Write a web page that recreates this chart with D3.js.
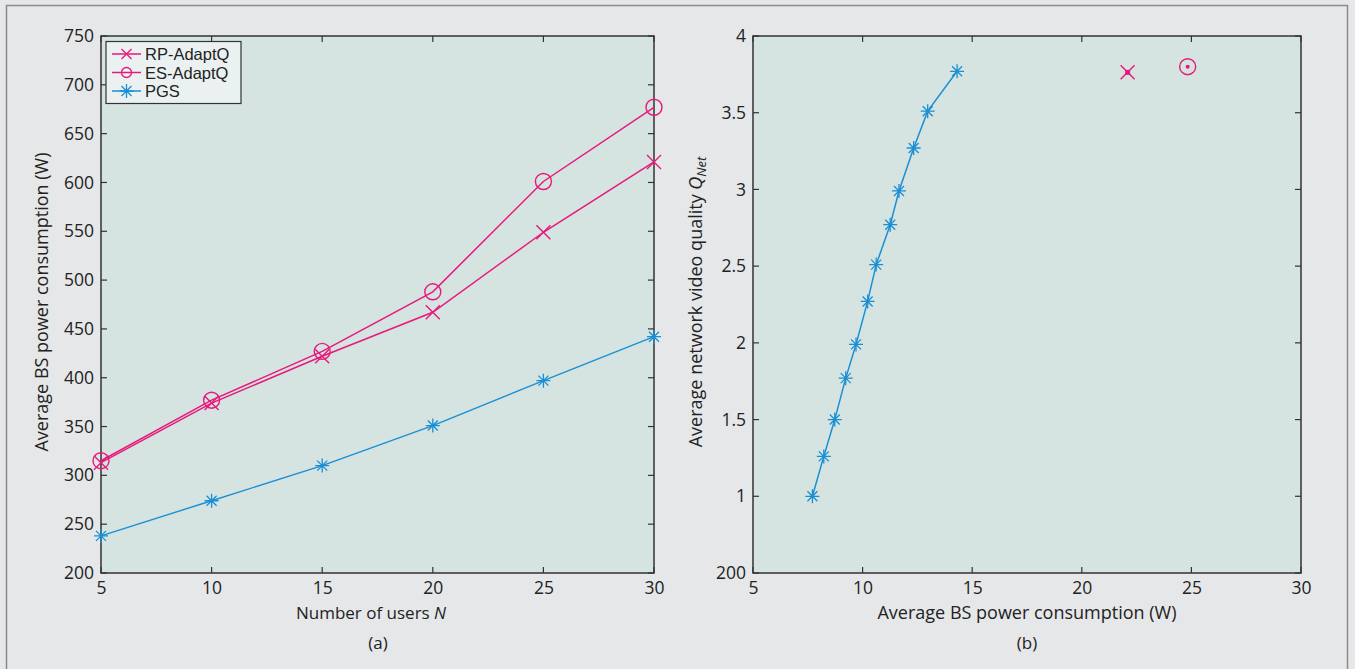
<!DOCTYPE html>
<html><head><meta charset="utf-8">
<script src="https://cdn.jsdelivr.net/npm/d3@7"></script>
<style>
html,body{margin:0;padding:0;background:#e6e7e9;}
svg{display:block;font-family:"Open Sans","Noto Sans",sans-serif;}
</style></head>
<body>
<svg id="c" width="1355" height="669"></svg>
<script>
// ---- data ----
const usersN = [5, 10, 15, 20, 25, 30];
const rpAdaptQ = [313, 374, 422, 467, 549, 621];
const esAdaptQ = [315, 377, 427, 488, 601, 677];
const pgsA = [238, 274, 310, 351, 397, 442];

const pgsPower = [7.71, 8.23, 8.73, 9.23, 9.70, 10.23, 10.62, 11.26, 11.66, 12.33, 12.97, 14.31];
const pgsQuality = [1.00, 1.26, 1.50, 1.77, 1.99, 2.27, 2.51, 2.77, 2.99, 3.27, 3.51, 3.77];
const rpPointB = [{x: 22.09, y: 3.763}];
const esPointB = [{x: 24.83, y: 3.80}];

const xTicksA = [5, 10, 15, 20, 25, 30];
const yTicksA = [200, 250, 300, 350, 400, 450, 500, 550, 600, 650, 700, 750];
const xTicksB = [5, 10, 15, 20, 25, 30];
const yTicksB = [0.5, 1, 1.5, 2, 2.5, 3, 3.5, 4];
const yTickLabelsB = ["200", "1", "1.5", "2", "2.5", "3", "3.5", "4"];
const legendNames = ["RP-AdaptQ", "ES-AdaptQ", "PGS"];

// ---- style ----
const PINK = "#e8197c", BLUE = "#1a8fd4", AXIS = "#333", PLOTBG = "#d5e4e1";
const FONT = '"Open Sans","Noto Sans",sans-serif';
const svg = d3.select("#c");

// outer frame
svg.append("path").attr("d", "M6.5,669 L6.5,5.5 L1347.5,5.5 L1347.5,669")
  .attr("fill", "none").attr("stroke", "#8a8a8a").attr("stroke-width", 1.5);

function marker(g, type, x, y, color) {
  if (type === "x") {
    const s = 7;
    g.append("path").attr("d", `M${x-s},${y-s}L${x+s},${y+s}M${x-s},${y+s}L${x+s},${y-s}`)
      .attr("stroke", color).attr("stroke-width", 1.4).attr("fill", "none");
  } else if (type === "o") {
    g.append("circle").attr("cx", x).attr("cy", y).attr("r", 8)
      .attr("stroke", color).attr("stroke-width", 1.4).attr("fill", "none");
  } else if (type === "*") {
    const s = 7, d = 5;
    g.append("path").attr("d", `M${x-s},${y}L${x+s},${y}M${x},${y-s}L${x},${y+s}M${x-d},${y-d}L${x+d},${y+d}M${x-d},${y+d}L${x+d},${y-d}`)
      .attr("stroke", color).attr("stroke-width", 1.3).attr("fill", "none");
  }
}

function frame(x, y, opts) {
  const g = svg.append("g");
  const [x0, x1] = x.range(), [y0, y1] = y.range();
  g.append("rect").attr("x", x0).attr("y", y1).attr("width", x1 - x0).attr("height", y0 - y1).attr("fill", PLOTBG);
  const tl = 6;
  opts.xt.forEach(v => {
    const px = x(v);
    g.append("line").attr("x1", px).attr("x2", px).attr("y1", y0).attr("y2", y0 - tl).attr("stroke", AXIS).attr("stroke-width", 1.2);
    g.append("line").attr("x1", px).attr("x2", px).attr("y1", y1).attr("y2", y1 + tl).attr("stroke", AXIS).attr("stroke-width", 1.2);
  });
  opts.yt.forEach(v => {
    const py = y(v);
    g.append("line").attr("x1", x0).attr("x2", x0 + tl).attr("y1", py).attr("y2", py).attr("stroke", AXIS).attr("stroke-width", 1.2);
    g.append("line").attr("x1", x1).attr("x2", x1 - tl).attr("y1", py).attr("y2", py).attr("stroke", AXIS).attr("stroke-width", 1.2);
  });
  g.append("rect").attr("x", x0).attr("y", y1).attr("width", x1 - x0).attr("height", y0 - y1)
    .attr("fill", "none").attr("stroke", AXIS).attr("stroke-width", 1.5);
  const ax = g.append("g").attr("transform", `translate(0,${y0})`)
    .call(d3.axisBottom(x).tickValues(opts.xt).tickSize(0).tickPadding(9).tickFormat(opts.xf || d3.format("d")));
  const ay = g.append("g").attr("transform", `translate(${x0},0)`)
    .call(d3.axisLeft(y).tickValues(opts.yt).tickSize(0).tickPadding(7).tickFormat(opts.yf));
  [ax, ay].forEach(a => {
    a.select(".domain").remove();
    a.selectAll("text").attr("font-size", 17.5).attr("fill", "#222").attr("font-family", FONT);
  });
  return g;
}

// ---- panel (a) ----
const xA = d3.scaleLinear().domain([5, 30]).range([101, 654]);
const yA = d3.scaleLinear().domain([200, 750]).range([573, 36]);
const gA = frame(xA, yA, {xt: xTicksA, yt: yTicksA, yf: d3.format("d")});
const lineA = d3.line().x(d => xA(d[0])).y(d => yA(d[1]));
const seriesA = [
  {vals: rpAdaptQ, color: PINK, m: "x", w: 1.5},
  {vals: esAdaptQ, color: PINK, m: "o", w: 1.5},
  {vals: pgsA, color: BLUE, m: "*", w: 1.4}
];
seriesA.forEach(s => {
  const pts = usersN.map((n, i) => [n, s.vals[i]]);
  gA.append("path").attr("d", lineA(pts)).attr("fill", "none").attr("stroke", s.color).attr("stroke-width", s.w);
  pts.forEach(p => marker(gA, s.m, xA(p[0]), yA(p[1]), s.color));
});

// legend
const lg = svg.append("g");
lg.append("rect").attr("x", 106).attr("y", 41.5).attr("width", 135).attr("height", 62)
  .attr("fill", "#eaf1f0").attr("stroke", "#333").attr("stroke-width", 1.2);
legendNames.forEach((name, i) => {
  const yy = 54 + i * 18.5;
  const c = i < 2 ? PINK : BLUE;
  lg.append("line").attr("x1", 112).attr("x2", 141).attr("y1", yy).attr("y2", yy).attr("stroke", c).attr("stroke-width", 1.5);
  if (i === 0) lg.append("path").attr("d", `M121.5,${yy-5}L131.5,${yy+5}M121.5,${yy+5}L131.5,${yy-5}`).attr("stroke", c).attr("stroke-width", 1.3);
  if (i === 1) lg.append("circle").attr("cx", 126.5).attr("cy", yy).attr("r", 5).attr("fill", "none").attr("stroke", c).attr("stroke-width", 1.3);
  if (i === 2) marker(lg, "*", 126.5, yy, c);
  lg.append("text").attr("x", 145).attr("y", yy + 6).attr("font-size", 16.5)
    .attr("font-family", '"Liberation Sans",Arial,sans-serif').attr("fill", "#222").text(name);
});

// axis titles (a)
svg.append("text").attr("x", 371).attr("y", 619).attr("text-anchor", "middle").attr("font-size", 17).attr("fill", "#222")
  .html('Number of users <tspan font-style="italic">N</tspan>');
svg.append("text").attr("x", 378).attr("y", 649).attr("text-anchor", "middle").attr("font-size", 17).attr("fill", "#222").text("(a)");
svg.append("text").attr("transform", "translate(48,302) rotate(-90)").attr("text-anchor", "middle").attr("font-size", 18).attr("fill", "#222")
  .text("Average BS power consumption (W)");

// ---- panel (b) ----
const xB = d3.scaleLinear().domain([5, 30]).range([753, 1301]);
const yB = d3.scaleLinear().domain([0.5, 4]).range([573, 36]);
const gB = frame(xB, yB, {xt: xTicksB, yt: yTicksB, yf: (d, i) => yTickLabelsB[i]});
const lineB = d3.line().x(d => xB(d[0])).y(d => yB(d[1]));
const ptsB = pgsPower.map((p, i) => [p, pgsQuality[i]]);
gB.append("path").attr("d", lineB(ptsB)).attr("fill", "none").attr("stroke", BLUE).attr("stroke-width", 1.5);
ptsB.forEach(p => marker(gB, "*", xB(p[0]), yB(p[1]), BLUE));
rpPointB.forEach(p => {
  marker(gB, "x", xB(p.x), yB(p.y), PINK);
  gB.append("rect").attr("x", xB(p.x) - 2.5).attr("y", yB(p.y) - 2.5).attr("width", 5).attr("height", 5).attr("fill", PINK);
});
esPointB.forEach(p => {
  marker(gB, "o", xB(p.x), yB(p.y), PINK);
  gB.append("circle").attr("cx", xB(p.x)).attr("cy", yB(p.y)).attr("r", 2).attr("fill", PINK);
});

svg.append("text").attr("x", 1027).attr("y", 619).attr("text-anchor", "middle").attr("font-size", 18).attr("fill", "#222")
  .text("Average BS power consumption (W)");
svg.append("text").attr("x", 1027).attr("y", 649).attr("text-anchor", "middle").attr("font-size", 17).attr("fill", "#222").text("(b)");
svg.append("text").attr("transform", "translate(702,302) rotate(-90)").attr("text-anchor", "middle").attr("font-size", 18).attr("fill", "#222")
  .html('Average network video quality <tspan font-style="italic">Q</tspan><tspan font-style="italic" font-size="13" dy="4">Net</tspan>');
</script>
</body></html>
